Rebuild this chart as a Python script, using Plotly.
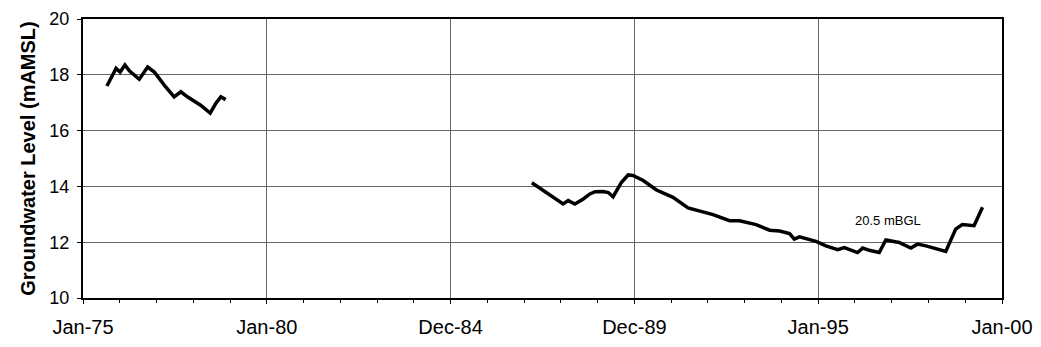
import plotly.graph_objects as go

# Decimal-year positions and groundwater levels (mAMSL)
years_a = [1975.65, 1975.90, 1976.01, 1976.14, 1976.26, 1976.53, 1976.76, 1976.94,
           1977.21, 1977.48, 1977.66, 1977.84, 1978.20, 1978.46, 1978.61, 1978.75, 1978.88]
level_a = [17.60, 18.23, 18.10, 18.35, 18.14, 17.84, 18.28, 18.10,
           17.63, 17.21, 17.39, 17.21, 16.91, 16.63, 16.97, 17.21, 17.11]

years_b = [1987.21, 1987.61, 1987.88, 1988.06, 1988.20, 1988.38, 1988.61, 1988.79,
           1988.93, 1989.15, 1989.29, 1989.42, 1989.65, 1989.83, 1989.96, 1990.24,
           1990.60, 1991.05, 1991.46, 1991.78, 1992.14, 1992.59, 1992.86, 1993.31,
           1993.68, 1993.95, 1994.22, 1994.35, 1994.49, 1994.94, 1995.21, 1995.53,
           1995.71, 1996.07, 1996.21, 1996.39, 1996.66, 1996.84, 1997.20, 1997.52,
           1997.70, 1997.93, 1998.47, 1998.74, 1998.92, 1999.24, 1999.47]
level_b = [14.13, 13.79, 13.55, 13.37, 13.49, 13.37, 13.55, 13.73,
           13.81, 13.82, 13.78, 13.63, 14.15, 14.41, 14.39, 14.21,
           13.87, 13.61, 13.23, 13.11, 12.99, 12.77, 12.77, 12.63,
           12.43, 12.40, 12.31, 12.11, 12.19, 12.03, 11.87, 11.73,
           11.81, 11.63, 11.79, 11.71, 11.63, 12.08, 11.99, 11.79,
           11.93, 11.87, 11.67, 12.47, 12.63, 12.59, 13.25]

tick_years = [1975, 1980, 1985, 1990, 1995, 2000]
tick_labels = ["Jan-75", "Jan-80", "Dec-84", "Dec-89", "Jan-95", "Jan-00"]
y_ticks = [10, 12, 14, 16, 18, 20]

annotation_text = "20.5 mBGL"
annotation_pos = (1996.9, 12.77)

FONT = "Liberation Sans, Arial, sans-serif"

fig = go.Figure()
line_style = dict(color="black", width=3.5)
fig.add_trace(go.Scatter(x=years_a, y=level_a, mode="lines", line=line_style, showlegend=False))
fig.add_trace(go.Scatter(x=years_b, y=level_b, mode="lines", line=line_style, showlegend=False))

fig.add_annotation(x=annotation_pos[0], y=annotation_pos[1], text=annotation_text,
                   showarrow=False, font=dict(size=13, color="black", family=FONT))

# page body adds an 8px offset, so the figure is sized to the visible window minus it
fig.update_layout(
    width=1025, height=331,
    margin=dict(l=74.5, r=31, t=11, b=41, autoexpand=False),
    paper_bgcolor="white", plot_bgcolor="white",
    font=dict(family=FONT, color="black"),
    xaxis=dict(
        range=[1975, 2000], tickvals=tick_years, ticktext=tick_labels,
        showgrid=True, gridcolor="#666666", gridwidth=1,
        showline=True, linecolor="black", linewidth=2, mirror=True,
        ticks="outside", ticklen=4, tickcolor="black",
        minor=dict(dtick=1, ticks="outside", ticklen=3, tickcolor="black", showgrid=False),
        tickfont=dict(size=20), zeroline=False, automargin=False,
        ticklabelstandoff=6,
    ),
    yaxis=dict(
        range=[10, 20], tickvals=y_ticks,
        showgrid=True, gridcolor="#666666", gridwidth=1,
        showline=True, linecolor="black", linewidth=2, mirror=True,
        ticks="outside", ticklen=4, tickcolor="black",
        tickfont=dict(size=18), zeroline=False, automargin=False,
        ticklabelstandoff=4,
        title=dict(text="<b>Groundwater Level (mAMSL)</b>", font=dict(size=20), standoff=8),
    ),
)

fig.write_html("out.html")
